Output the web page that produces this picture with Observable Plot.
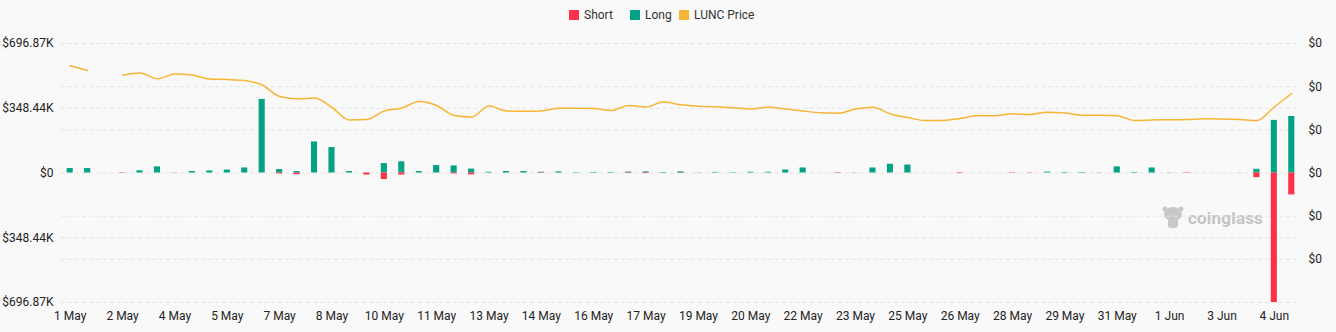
<!DOCTYPE html>
<html>
<head>
<meta charset="utf-8">
<script src="https://cdn.jsdelivr.net/npm/d3@7"></script>
<script src="https://cdn.jsdelivr.net/npm/@observablehq/plot@0.6"></script>
<style>
  html, body { margin: 0; padding: 0; background: #f9f9f9; }
  #wrap { position: relative; width: 1336px; height: 332px; font-family: Roboto, "Noto Sans", sans-serif; }
  .leg { position: absolute; top: 8px; font-size: 12px; color: #333; display: flex; align-items: center; height: 14px; }
  .leg span.sw { display: inline-block; width: 10px; height: 10px; margin-right: 5px; }
  #wm { position: absolute; left: 1162px; top: 205px; display: flex; align-items: center; color: #c4c4c4; font-weight: 700; font-size: 17px; letter-spacing: 0.2px; }
  #chart { position: absolute; left: 0; top: 0; }
</style>
</head>
<body>
<div id="wrap">
  <div id="wm"><svg width="22" height="26" viewBox="0 0 22 26"><ellipse cx="11" cy="9" rx="9" ry="7" fill="#c8c8c8"/><rect x="6" y="14" width="10" height="9" rx="3" fill="#c8c8c8"/><circle cx="3" cy="4" r="2.5" fill="#c8c8c8"/><circle cx="19" cy="4" r="2.5" fill="#c8c8c8"/></svg><span style="margin-left:4px">coinglass</span></div>
  <div id="chart"></div>
  <div class="leg" style="left:569px"><span class="sw" style="background:#fd3049"></span>Short</div>
  <div class="leg" style="left:630px"><span class="sw" style="background:#02a385"></span>Long</div>
  <div class="leg" style="left:679px"><span class="sw" style="background:#f7b535"></span>LUNC Price</div>
</div>
<script>
// 12-hour periods from 1 May 00:00 to 5 Jun 00:00 (71 categories)
const periods = d3.utcHour.every(12).range(new Date(Date.UTC(2024, 4, 1)), new Date(Date.UTC(2024, 5, 5, 1))).map(d => d.toISOString());

// x tick labels (every 3rd period)
const xTickLabels = ["1 May","2 May","4 May","5 May","7 May","8 May","10 May","11 May","13 May","14 May","16 May","17 May","19 May","20 May","22 May","23 May","25 May","26 May","28 May","29 May","31 May","1 Jun","3 Jun","4 Jun"];

// Long liquidations (USD)
const longValues = [24000,24000,0,0,12000,33000,0,8000,11000,16000,
  27000,396000,19000,8000,167000,137000,8000,0,51000,60000,
  8000,40000,38000,21000,4000,8000,8000,4000,6000,2000,
  3000,3000,5000,6000,3000,6000,1000,3000,2000,4000,
  4000,16000,27000,0,1000,0,27000,47000,43000,0,
  0,0,0,0,0,0,5000,3000,3000,1000,
  33000,3000,27000,1000,0,0,0,500,20000,283000,
  304000];

// Short liquidations (USD)
const shortValues = [0,0,0,2000,0,0,1000,0,0,0,
  0,0,5000,9000,0,0,0,11000,35000,11000,
  0,0,5000,10000,0,0,0,2000,0,0,
  0,0,2000,3000,0,2000,0,0,0,0,
  0,0,0,0,2000,1000,0,0,0,0,
  0,3000,0,0,2000,1500,0,0,0,0,
  0,0,0,0,2000,0,0,0,25000,696870,
  118000];

// LUNC price (USD)
const luncPrice = [0.00010967,0.00010749,null,0.00010531,0.00010633,0.00010364,0.00010587,0.00010541,0.00010355,0.00010332,
  0.00010286,0.00010077,0.00009544,0.00009438,0.00009475,0.00009035,0.00008456,0.00008479,0.00008873,0.00009012,
  0.00009313,0.00009127,0.00008664,0.00008595,0.00009104,0.00008873,0.00008863,0.00008873,0.00009002,0.00009002,
  0.00008988,0.00008896,0.00009127,0.00009058,0.00009299,0.00009160,0.00009095,0.00009067,0.00009021,0.00008965,
  0.00009049,0.00008965,0.00008873,0.00008789,0.00008771,0.00008965,0.00009044,0.00008734,0.00008571,0.00008432,
  0.00008432,0.00008525,0.00008664,0.00008650,0.00008743,0.00008710,0.00008817,0.00008780,0.00008678,0.00008678,
  0.00008655,0.00008432,0.00008456,0.00008465,0.00008479,0.00008511,0.00008502,0.00008479,0.00008432,0.00009058,
  0.00009683];

// Axis ticks
const leftTickValues = [-696870, -348435, 0, 348435, 696870];
const leftTickLabels = ["$696.87K", "$348.44K", "$0", "$348.44K", "$696.87K"];
const priceTickValues = [0.00002, 0.00004, 0.00006, 0.00008, 0.0001, 0.00012];
const priceTickLabels = ["$0", "$0", "$0", "$0", "$0", "$0"];

const yMax = 696870;
const priceMax = 0.00012;
const priceToY = p => (p == null ? NaN : -yMax + (p / priceMax) * 2 * yMax);

const rows = periods.map((p, i) => ({
  period: p,
  long: longValues[i],
  short: shortValues[i],
  price: priceToY(luncPrice[i])
}));

const xTicks = periods.filter((p, i) => i % 3 === 0);
const rightTickYs = priceTickValues.map(priceToY);
const gridYs = Array.from(new Set([...leftTickValues, ...rightTickYs.map(v => Math.round(v))]));

const chart = Plot.plot({
  width: 1336,
  height: 332,
  marginTop: 43,
  marginBottom: 30,
  marginLeft: 61,
  marginRight: 36,
  style: { background: "transparent", fontFamily: "Roboto, 'Noto Sans', sans-serif", fontSize: "12px", color: "#222" },
  x: { type: "band", domain: periods, paddingInner: 0.65, paddingOuter: 0.325 },
  y: { domain: [-yMax, yMax] },
  marks: [
    Plot.ruleY(gridYs, { stroke: "#e4e4e4", strokeDasharray: "4,3", strokeWidth: 1 }),
    Plot.barY(rows, { x: "period", y1: 0, y2: "long", fill: "#02a385" }),
    Plot.barY(rows, { x: "period", y1: 0, y2: d => -d.short, fill: "#fd3049" }),
    Plot.line(rows, { x: "period", y: "price", stroke: "#f7b535", strokeWidth: 1.5, curve: "monotone-x" }),
    Plot.axisX({ ticks: xTicks, tickSize: 0, tickPadding: 9, tickFormat: d => xTickLabels[xTicks.indexOf(d)], fontSize: 12, fill: "#222", label: null }),
    Plot.axisY({ ticks: leftTickValues, tickSize: 0, tickPadding: 8, tickFormat: d => leftTickLabels[leftTickValues.indexOf(d)], fontSize: 12, fill: "#222", label: null }),
    Plot.axisY({ anchor: "right", ticks: rightTickYs, tickSize: 0, tickPadding: 8, tickFormat: d => priceTickLabels[rightTickYs.indexOf(d)], fontSize: 12, fill: "#222", label: null })
  ]
});
document.getElementById("chart").appendChild(chart);
</script>
</body>
</html>
